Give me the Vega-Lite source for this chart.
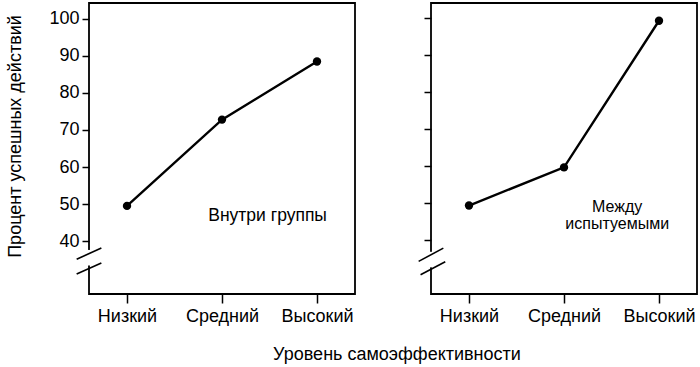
{
  "$schema": "https://vega.github.io/schema/vega-lite/v6.json",
  "padding": {"left": 6, "top": 2, "right": 0, "bottom": 5},
  "config": {
    "font": "Liberation Sans",
    "view": {"stroke": "black", "strokeWidth": 1.8},
    "axis": {"grid": false, "domain": false, "tickColor": "black", "tickWidth": 1.5, "labelColor": "black", "labelFont": "Liberation Sans", "labelFontSize": 18, "titleFont": "Liberation Sans", "titleFontWeight": "normal", "titleColor": "black"}
  },
  "datasets": {
    "pts": [
      {"panel": "A", "level": 1, "pct": 49.5},
      {"panel": "A", "level": 2, "pct": 72.8},
      {"panel": "A", "level": 3, "pct": 88.5},
      {"panel": "B", "level": 1, "pct": 49.3},
      {"panel": "B", "level": 2, "pct": 59.6},
      {"panel": "B", "level": 3, "pct": 99.2}
    ],
    "gap": [
      {"panel": "A", "x": 0.6, "y": 33.4, "y2": 37.6},
      {"panel": "B", "x": 0.6, "y": 32.6, "y2": 36.8}
    ],
    "breaks": [
      {"panel": "A", "x": 0.47, "y": 35.1, "x2": 0.73, "y2": 38.1},
      {"panel": "A", "x": 0.47, "y": 31.1, "x2": 0.73, "y2": 34.1},
      {"panel": "B", "x": 0.47, "y": 34.2, "x2": 0.73, "y2": 37.8},
      {"panel": "B", "x": 0.49, "y": 30.6, "x2": 0.75, "y2": 34.1}
    ],
    "notes": [
      {"panel": "A", "x": 2.48, "y": 46.8, "label": "Внутри группы"},
      {"panel": "B", "x": 2.56, "y": 49.0, "label": "Между\nиспытуемыми"}
    ]
  },
  "title": {"text": "Уровень самоэффективности", "orient": "bottom", "anchor": "middle", "fontSize": 18, "fontWeight": "normal", "font": "Liberation Sans", "color": "black", "offset": 20, "dx": 45},
  "spacing": 60,
  "hconcat": [
    {
      "width": 266,
      "height": 291,
      "layer": [
        {
          "data": {"name": "gap"},
          "transform": [{"filter": "datum.panel == 'A'"}],
          "mark": {"type": "rule", "color": "white", "strokeWidth": 4, "clip": false},
          "encoding": {
            "x": {"field": "x", "type": "quantitative", "scale": {"domain": [0.6, 3.4], "nice": false, "zero": false},
              "axis": {"values": [1, 2, 3], "labelExpr": "datum.value == 1 ? 'Низкий' : datum.value == 2 ? 'Средний' : 'Высокий'", "title": null, "tickSize": 9, "labelPadding": 4}},
            "y": {"field": "y", "type": "quantitative", "scale": {"domain": [25.7, 104.3], "nice": false, "zero": false},
              "axis": {"values": [40, 50, 60, 70, 80, 90, 100], "title": "Процент успешных действий", "titleFontSize": 18, "tickSize": 7, "labelPadding": 3, "titlePadding": 24, "titleY": 133}},
            "y2": {"field": "y2"}
          }
        },
        {
          "data": {"name": "breaks"},
          "transform": [{"filter": "datum.panel == 'A'"}],
          "mark": {"type": "rule", "color": "black", "strokeWidth": 1.6, "clip": false},
          "encoding": {
            "x": {"field": "x", "type": "quantitative"},
            "x2": {"field": "x2"},
            "y": {"field": "y", "type": "quantitative"},
            "y2": {"field": "y2"}
          }
        },
        {
          "data": {"name": "pts"},
          "transform": [{"filter": "datum.panel == 'A'"}],
          "mark": {"type": "line", "color": "black", "strokeWidth": 2.4, "point": {"filled": true, "size": 70, "color": "black"}},
          "encoding": {
            "x": {"field": "level", "type": "quantitative"},
            "y": {"field": "pct", "type": "quantitative"}
          }
        },
        {
          "data": {"name": "notes"},
          "transform": [{"filter": "datum.panel == 'A'"}],
          "mark": {"type": "text", "fontSize": 17.5, "color": "black", "lineBreak": "\n", "lineHeight": 16},
          "encoding": {
            "x": {"field": "x", "type": "quantitative"},
            "y": {"field": "y", "type": "quantitative"},
            "text": {"field": "label"}
          }
        }
      ]
    },
    {
      "width": 266,
      "height": 291,
      "layer": [
        {
          "data": {"name": "gap"},
          "transform": [{"filter": "datum.panel == 'B'"}],
          "mark": {"type": "rule", "color": "white", "strokeWidth": 4, "clip": false},
          "encoding": {
            "x": {"field": "x", "type": "quantitative", "scale": {"domain": [0.6, 3.4], "nice": false, "zero": false},
              "axis": {"values": [1, 2, 3], "labelExpr": "datum.value == 1 ? 'Низкий' : datum.value == 2 ? 'Средний' : 'Высокий'", "title": null, "tickSize": 9, "labelPadding": 4}},
            "y": {"field": "y", "type": "quantitative", "scale": {"domain": [25.4, 104.0], "nice": false, "zero": false},
              "axis": {"values": [40, 50, 60, 70, 80, 90, 100], "labels": false, "title": null, "tickSize": 7}},
            "y2": {"field": "y2"}
          }
        },
        {
          "data": {"name": "breaks"},
          "transform": [{"filter": "datum.panel == 'B'"}],
          "mark": {"type": "rule", "color": "black", "strokeWidth": 1.6, "clip": false},
          "encoding": {
            "x": {"field": "x", "type": "quantitative"},
            "x2": {"field": "x2"},
            "y": {"field": "y", "type": "quantitative"},
            "y2": {"field": "y2"}
          }
        },
        {
          "data": {"name": "pts"},
          "transform": [{"filter": "datum.panel == 'B'"}],
          "mark": {"type": "line", "color": "black", "strokeWidth": 2.4, "point": {"filled": true, "size": 70, "color": "black"}},
          "encoding": {
            "x": {"field": "level", "type": "quantitative"},
            "y": {"field": "pct", "type": "quantitative"}
          }
        },
        {
          "data": {"name": "notes"},
          "transform": [{"filter": "datum.panel == 'B'"}],
          "mark": {"type": "text", "fontSize": 16, "color": "black", "lineBreak": "\n", "lineHeight": 17},
          "encoding": {
            "x": {"field": "x", "type": "quantitative"},
            "y": {"field": "y", "type": "quantitative"},
            "text": {"field": "label"}
          }
        }
      ]
    }
  ]
}
